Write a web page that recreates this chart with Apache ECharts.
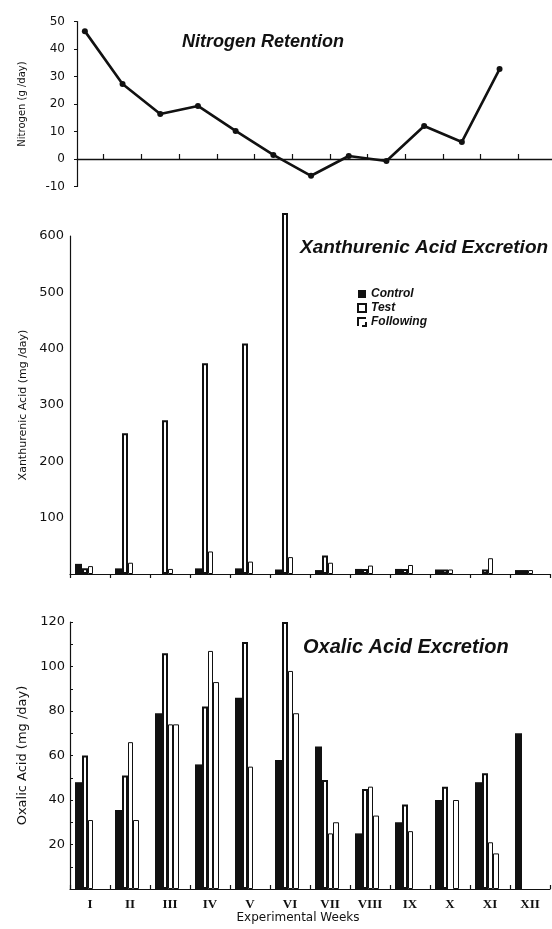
<!DOCTYPE html>
<html><head><meta charset="utf-8">
<script src="https://cdn.jsdelivr.net/npm/echarts@6/dist/echarts.min.js"></script>
<style>html,body{margin:0;padding:0;background:#fff}#c{width:552px;height:929px}</style>
</head><body><div id="c"></div>
<script>
// ---- data ----
const weeks = ['I','II','III','IV','V','VI','VII','VIII','IX','X','XI','XII'];
const nitrogen = [46.5, 27.3, 16.4, 19.3, 10.2, 1.5, -6.1, 1.1, -0.7, 12.0, 6.2, 32.7];
const nitrogenTicks = [-10, 0, 10, 20, 30, 40, 50];

const xanControl   = [18, 10, null, 10, 10, 8, 7, 9, 9, 8, null, 7];
const xanTest      = [10, 250, 273, 374, 409, 641, 33, 9, 9, 8, 8, 7];
const xanFollowing = [14, 20, 9, 40, 22, 30, 20, 15, 16, 8, 28, 7];
const xanTicks = [100, 200, 300, 400, 500, 600];

const oxControl    = [48, 35.5, 79, 56, 86, 58, 64, 25, 30, 40, 48, 70];
const oxTest       = [60, 51, 106, 82, 111, 120, 49, 45, 38, 46, 52, null];
const oxFollowing  = [31, 66, 74, 107, 55, 98, 25, 46, 26, null, 21, null];
const oxFollowing2 = [null, 31, 74, 93, null, 79, 30, 33, null, 40, 16, null];
const oxTicks = [20, 40, 60, 80, 100, 120];

// ---- styling ----
const ink = '#111';
const sans = 'DejaVu Sans';
const head = 'Liberation Sans';

function barSet(ax, ctrl, test, fol, fol2) {
  const common = { type: 'bar', xAxisIndex: ax, yAxisIndex: ax, barGap: '0%', clip: false, silent: true };
  return [
    Object.assign({}, common, { name: 'Control', data: ctrl, barWidth: 7, itemStyle: { color: ink } }),
    Object.assign({}, common, { name: 'Test', data: test, barWidth: 6, itemStyle: { color: '#fff', borderColor: ink, borderWidth: 2 } }),
    Object.assign({}, common, { name: 'Following', data: fol, barWidth: 5, itemStyle: { color: '#fff', borderColor: ink, borderWidth: 1 } }),
    Object.assign({}, common, { name: 'Following (2nd week)', data: fol2, barWidth: 6, itemStyle: { color: '#fff', borderColor: ink, borderWidth: 1 } }),
    Object.assign({}, common, { name: ' ', data: [], barWidth: 6, itemStyle: { color: 'rgba(0,0,0,0)' } })
  ];
}

function tickFmt(list) { return v => (list.indexOf(v) >= 0 ? String(v) : ''); }

const option = {
  animation: false,
  backgroundColor: '#fff',
  title: [
    { text: 'Nitrogen Retention', left: 182, top: 33, padding: 0,
      textStyle: { fontFamily: head, fontStyle: 'italic', fontWeight: 'bold', fontSize: 18, color: ink } },
    { text: 'Xanthurenic Acid Excretion', left: 300, top: 238, padding: 0,
      textStyle: { fontFamily: head, fontStyle: 'italic', fontWeight: 'bold', fontSize: 19, color: ink } },
    { text: 'Oxalic Acid Excretion', left: 303, top: 637, padding: 0,
      textStyle: { fontFamily: head, fontStyle: 'italic', fontWeight: 'bold', fontSize: 20, color: ink } }
  ],
  legend: {
    data: [{ name: 'Control' }, { name: 'Test' }, { name: 'Following', itemStyle: { borderType: 'dashed' } }],
    orient: 'vertical', left: 357, top: 288, padding: 0,
    itemWidth: 8, itemHeight: 8, itemGap: 2, icon: 'rect', selectedMode: false,
    textStyle: { fontFamily: head, fontStyle: 'italic', fontWeight: 'bold', fontSize: 12, color: ink, lineHeight: 11 }
  },
  grid: [
    { left: 66, top: 21.5, width: 452.4, height: 165 },
    { left: 77, right: 0, top: 21.5, height: 137.5 },
    { left: 70, right: 2, top: 236, height: 338 },
    { left: 70, right: 2, top: 622, height: 267 }
  ],
  xAxis: [
    { type: 'category', gridIndex: 0, data: weeks, boundaryGap: true,
      axisLine: { show: false, onZero: true },
      axisTick: { show: true, inside: true, length: 5, interval: (i) => i !== 0, lineStyle: { color: ink, width: 1.2 } },
      axisLabel: { show: false } },
    { type: 'value', gridIndex: 1, min: 0, max: 1,
      axisLine: { show: true, lineStyle: { color: ink, width: 1.3 } },
      axisTick: { show: false }, axisLabel: { show: false }, splitLine: { show: false } },
    { type: 'category', gridIndex: 2, data: weeks, boundaryGap: true,
      axisLine: { show: true, lineStyle: { color: ink, width: 1.2 } },
      axisTick: { show: true, inside: false, length: 4, lineStyle: { color: ink, width: 1.2 } },
      axisLabel: { show: false } },
    { type: 'category', gridIndex: 3, data: weeks, boundaryGap: true,
      axisLine: { show: true, lineStyle: { color: ink, width: 1.2 } },
      axisTick: { show: true, inside: true, length: 4, lineStyle: { color: ink, width: 1.2 } },
      axisLabel: { show: true, margin: 9, fontFamily: 'Liberation Serif', fontWeight: 'bold', fontSize: 13, color: ink },
      name: 'Experimental Weeks', nameLocation: 'middle', nameGap: 23,
      nameTextStyle: { fontFamily: sans, fontSize: 12, color: ink, padding: [0, 24, 0, 0] } }
  ],
  yAxis: [
    { type: 'value', gridIndex: 0, min: nitrogenTicks[0], max: nitrogenTicks[nitrogenTicks.length - 1],
      interval: nitrogenTicks[1] - nitrogenTicks[0], offset: -11,
      axisLine: { show: true, lineStyle: { color: ink, width: 1.2 } },
      axisTick: { show: true, length: 3, lineStyle: { color: ink } },
      axisLabel: { fontFamily: sans, fontSize: 12, color: ink, margin: 12, formatter: tickFmt(nitrogenTicks) },
      splitLine: { show: false },
      name: 'Nitrogen (g /day)', nameLocation: 'middle', nameGap: 50,
      nameTextStyle: { fontFamily: sans, fontSize: 10, color: ink } },
    { type: 'value', gridIndex: 1, min: 0, max: 1, show: false },
    { type: 'value', gridIndex: 2, min: 0, max: xanTicks[xanTicks.length - 1], interval: xanTicks[1] - xanTicks[0],
      axisLine: { show: true, lineStyle: { color: ink, width: 1.2 } },
      axisTick: { show: false },
      axisLabel: { fontFamily: sans, fontSize: 13, color: ink, margin: 6, formatter: tickFmt(xanTicks) },
      splitLine: { show: false },
      name: 'Xanthurenic Acid (mg /day)', nameLocation: 'middle', nameGap: 38,
      nameTextStyle: { fontFamily: sans, fontSize: 11, color: ink } },
    { type: 'value', gridIndex: 3, min: 0, max: oxTicks[oxTicks.length - 1], interval: oxTicks[1] - oxTicks[0],
      axisLine: { show: true, lineStyle: { color: ink, width: 1.2 } },
      axisTick: { show: true, inside: true, length: 3, lineStyle: { color: ink } },
      minorTick: { show: true, splitNumber: 2, length: 3, lineStyle: { color: ink } },
      axisLabel: { fontFamily: sans, fontSize: 13, color: ink, margin: 5, formatter: tickFmt(oxTicks) },
      splitLine: { show: false },
      name: 'Oxalic Acid (mg /day)', nameLocation: 'middle', nameGap: 40,
      nameTextStyle: { fontFamily: sans, fontSize: 13, color: ink } }
  ],
  series: [
    { type: 'line', name: 'Nitrogen', xAxisIndex: 0, yAxisIndex: 0, data: nitrogen,
      symbol: 'circle', symbolSize: 6, color: ink,
      lineStyle: { color: ink, width: 2.6 }, itemStyle: { color: ink }, silent: true }
  ].concat(
    barSet(2, xanControl, xanTest, xanFollowing, []),
    barSet(3, oxControl, oxTest, oxFollowing, oxFollowing2)
  )
};

const chart = echarts.init(document.getElementById('c'), null, { renderer: 'canvas' });
chart.setOption(option);
</script>
</body></html>
